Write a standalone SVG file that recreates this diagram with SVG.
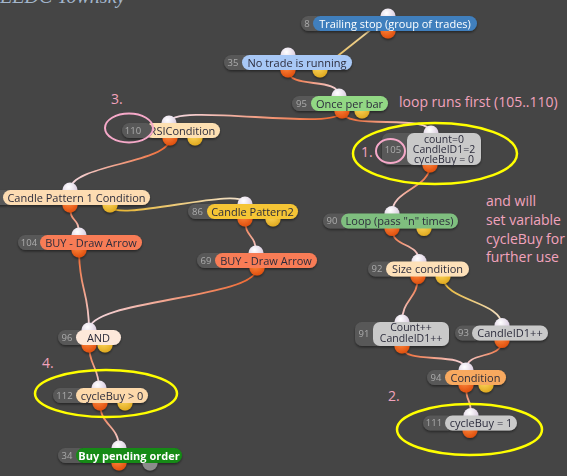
<svg xmlns="http://www.w3.org/2000/svg" width="567" height="476" viewBox="0 0 567 476">
  <style>
    .pill { fill: #595959; }
    .num { font-family: "Open Sans", "Noto Sans", "DejaVu Sans", sans-serif; font-size: 9.5px; fill: #ababab; text-anchor: middle; }
    .lbl { font-family: "Open Sans", "Noto Sans", "DejaVu Sans", sans-serif; font-size: 11px; fill: #2c2c3c; text-anchor: middle; }
    .lbl2 { font-family: "Open Sans", "Noto Sans", "DejaVu Sans", sans-serif; font-size: 10.5px; fill: #2c2c3c; text-anchor: middle; }
    .pin { fill: url(#gIn); }
    .po { fill: url(#gOut); }
    .py { fill: url(#gYel); }
    .pg { fill: #8c8c8c; }
    .wire { fill: none; stroke-width: 1.8; }
    .note { font-family: "Open Sans", "Noto Sans", "DejaVu Sans", sans-serif; font-size: 14px; fill: #f2a3bd; }
    .ringY { fill: none; stroke: #ffff00; stroke-width: 2.5; }
    .ringP { fill: none; stroke: #f6a9c9; stroke-width: 2; }
    .node { filter: url(#shadow); }
  </style>
  <defs>
    <filter id="shadow" x="-10%" y="-30%" width="120%" height="180%">
      <feDropShadow dx="0" dy="1.5" stdDeviation="1.2" flood-color="#000" flood-opacity="0.45"/>
    </filter>
    <radialGradient id="gIn" cx="0.4" cy="0.3" r="0.7">
      <stop offset="0" stop-color="#ffffff"/>
      <stop offset="1" stop-color="#d6c6dc"/>
    </radialGradient>
    <radialGradient id="gOut" cx="0.4" cy="0.3" r="0.7">
      <stop offset="0" stop-color="#ff8a40"/>
      <stop offset="1" stop-color="#e0500e"/>
    </radialGradient>
    <radialGradient id="gYel" cx="0.4" cy="0.3" r="0.7">
      <stop offset="0" stop-color="#ffd860"/>
      <stop offset="1" stop-color="#e0aa20"/>
    </radialGradient>
    <!-- wire gradients: source colour to pale target colour -->
    <linearGradient id="wa" gradientUnits="userSpaceOnUse" x1="320" y1="70" x2="388" y2="16"><stop offset="0" stop-color="#e8bb50"/><stop offset="1" stop-color="#f0dcb4"/></linearGradient>
    <linearGradient id="wb" gradientUnits="userSpaceOnUse" x1="288" y1="70" x2="339" y2="96"><stop offset="0" stop-color="#f06428"/><stop offset="1" stop-color="#f4dce6"/></linearGradient>
    <linearGradient id="wc" gradientUnits="userSpaceOnUse" x1="342" y1="111" x2="431" y2="133"><stop offset="0" stop-color="#f06428"/><stop offset="1" stop-color="#f4dce6"/></linearGradient>
    <linearGradient id="wd" gradientUnits="userSpaceOnUse" x1="342" y1="111" x2="169" y2="123"><stop offset="0" stop-color="#f06428"/><stop offset="1" stop-color="#f4dce6"/></linearGradient>
    <linearGradient id="we" gradientUnits="userSpaceOnUse" x1="170" y1="138" x2="70" y2="190"><stop offset="0" stop-color="#f06428"/><stop offset="1" stop-color="#f4dce6"/></linearGradient>
    <linearGradient id="wf" gradientUnits="userSpaceOnUse" x1="110" y1="205" x2="245" y2="204"><stop offset="0" stop-color="#e8b428"/><stop offset="1" stop-color="#f2e2d0"/></linearGradient>
    <linearGradient id="wg" gradientUnits="userSpaceOnUse" x1="70" y1="205" x2="79" y2="235"><stop offset="0" stop-color="#f06428"/><stop offset="1" stop-color="#f4dce6"/></linearGradient>
    <linearGradient id="wh" gradientUnits="userSpaceOnUse" x1="245" y1="219" x2="256" y2="253"><stop offset="0" stop-color="#f06428"/><stop offset="1" stop-color="#f4dce6"/></linearGradient>
    <linearGradient id="wi" gradientUnits="userSpaceOnUse" x1="79" y1="250" x2="89" y2="330"><stop offset="0" stop-color="#f06428"/><stop offset="1" stop-color="#f4dce6"/></linearGradient>
    <linearGradient id="wj" gradientUnits="userSpaceOnUse" x1="257" y1="268" x2="89" y2="330"><stop offset="0" stop-color="#f06428"/><stop offset="1" stop-color="#f4dce6"/></linearGradient>
    <linearGradient id="wk" gradientUnits="userSpaceOnUse" x1="89" y1="345" x2="99" y2="388"><stop offset="0" stop-color="#f06428"/><stop offset="1" stop-color="#f4dce6"/></linearGradient>
    <linearGradient id="wl" gradientUnits="userSpaceOnUse" x1="100" y1="403" x2="119" y2="448"><stop offset="0" stop-color="#f06428"/><stop offset="1" stop-color="#f4dce6"/></linearGradient>
    <linearGradient id="wm" gradientUnits="userSpaceOnUse" x1="430" y1="165" x2="392" y2="213"><stop offset="0" stop-color="#f06428"/><stop offset="1" stop-color="#f4dce6"/></linearGradient>
    <linearGradient id="wn" gradientUnits="userSpaceOnUse" x1="392" y1="228" x2="419" y2="261"><stop offset="0" stop-color="#f06428"/><stop offset="1" stop-color="#f4dce6"/></linearGradient>
    <linearGradient id="wo" gradientUnits="userSpaceOnUse" x1="418" y1="276" x2="402" y2="322"><stop offset="0" stop-color="#f06428"/><stop offset="1" stop-color="#f4dce6"/></linearGradient>
    <linearGradient id="wp" gradientUnits="userSpaceOnUse" x1="443" y1="276" x2="502" y2="325"><stop offset="0" stop-color="#e8b428"/><stop offset="1" stop-color="#f2e2d0"/></linearGradient>
    <linearGradient id="wq" gradientUnits="userSpaceOnUse" x1="402" y1="346" x2="466" y2="370"><stop offset="0" stop-color="#f06428"/><stop offset="1" stop-color="#f4dce6"/></linearGradient>
    <linearGradient id="wr" gradientUnits="userSpaceOnUse" x1="502" y1="340" x2="466" y2="370"><stop offset="0" stop-color="#f06428"/><stop offset="1" stop-color="#f4dce6"/></linearGradient>
    <linearGradient id="ws" gradientUnits="userSpaceOnUse" x1="466" y1="385" x2="471" y2="415"><stop offset="0" stop-color="#f06428"/><stop offset="1" stop-color="#f4dce6"/></linearGradient>
  </defs>

  <rect width="567" height="476" fill="#454545"/>
  <text x="0" y="3" font-family="Liberation Serif, serif" font-style="italic" font-size="20" fill="#a3b6cc">EEDC Townsky</text>

  <g id="connectors">
    <path class="wire" stroke="url(#wa)" d="M320,70 L388,16"/>
    <path class="wire" stroke="url(#wb)" d="M288,70 C288,90 339,76 339,96"/>
    <path class="wire" stroke="url(#wc)" d="M342,111 C342,131 431,113 431,133"/>
    <path class="wire" stroke="url(#wd)" d="M342,111 C342,133 169,101 169,123"/>
    <path class="wire" stroke="url(#we)" d="M170,138 C170,164 70,164 70,190"/>
    <path class="wire" stroke="url(#wf)" d="M110,205 C110,225 245,184 245,204"/>
    <path class="wire" stroke="url(#wg)" d="M70,205 C70,225 79,215 79,235"/>
    <path class="wire" stroke="url(#wh)" d="M245,219 C245,239 256,233 256,253"/>
    <path class="wire" stroke="url(#wi)" d="M79,250 C79,290 89,290 89,330"/>
    <path class="wire" stroke="url(#wj)" d="M257,268 C257,299 89,299 89,330"/>
    <path class="wire" stroke="url(#wk)" d="M89,345 C89,366 99,367 99,388"/>
    <path class="wire" stroke="url(#wl)" d="M100,403 C100,426 119,425 119,448"/>
    <path class="wire" stroke="url(#wm)" d="M430,165 C430,189 392,189 392,213.5"/>
    <path class="wire" stroke="url(#wn)" d="M392,228.5 C392,248.5 419,241.5 419,261.5"/>
    <path class="wire" stroke="url(#wo)" d="M418,276.5 C418,299 402,299 402,322"/>
    <path class="wire" stroke="url(#wp)" d="M443,276.5 C443,301 502,301 502,325.5"/>
    <path class="wire" stroke="url(#wq)" d="M402,346 C402,366 466,350 466,370"/>
    <path class="wire" stroke="url(#wr)" d="M502,340.5 C502,360.5 466,350 466,370"/>
    <path class="wire" stroke="url(#ws)" d="M466,385 C466,405 471,395.5 471,415.5"/>
  </g>

  <g id="node-8" class="node">
    <circle class="pin" cx="388" cy="16" r="7.5"/>
    <circle class="po" cx="388" cy="31" r="7.5"/>
    <rect class="pill" x="301" y="16" width="22" height="15" rx="7.5"/>
    <text class="num" x="307" y="26.8">8</text>
    <rect x="313" y="16" width="164" height="15" rx="7.5" fill="#3f7fbd"/>
    <text class="lbl" x="395" y="27.5" style="fill:#ffffff">Trailing stop (group of trades)</text>
  </g>

  <g id="node-35" class="node">
    <circle class="pin" cx="288" cy="55" r="7.5"/>
    <circle class="po" cx="288" cy="70" r="7.5"/>
    <circle class="py" cx="320" cy="70" r="7.5"/>
    <rect class="pill" x="224" y="55" width="28" height="15" rx="7.5"/>
    <text class="num" x="233" y="65.8">35</text>
    <rect x="242" y="55" width="110" height="15" rx="7.5" fill="#a8c8f6"/>
    <text class="lbl" x="297" y="66.5">No trade is running</text>
  </g>

  <g id="node-95" class="node">
    <circle class="pin" cx="339" cy="96" r="7.5"/>
    <circle class="po" cx="342" cy="111" r="7.5"/>
    <circle class="py" cx="362" cy="111" r="7.5"/>
    <rect class="pill" x="292" y="96" width="29" height="15" rx="7.5"/>
    <text class="num" x="301.5" y="106.8">95</text>
    <rect x="311" y="96" width="77" height="15" rx="7.5" fill="#92d884"/>
    <text class="lbl" x="349.5" y="107.5">Once per bar</text>
  </g>

  <g id="node-110" class="node">
    <circle class="pin" cx="169" cy="123" r="7.5"/>
    <circle class="po" cx="170" cy="138" r="7.5"/>
    <circle class="py" cx="195" cy="138" r="7.5"/>
    <rect x="145" y="123" width="75" height="15" rx="7.5" fill="#fde0b2"/>
    <text class="lbl" x="182.5" y="134.5">RSICondition</text>
    <rect class="pill" x="122" y="123" width="31" height="15" rx="7.5"/>
    <text class="num" x="133" y="133.8">110</text>
  </g>

  <g id="node-105" class="node">
    <circle class="pin" cx="431" cy="133" r="7.5"/>
    <circle class="po" cx="430" cy="165" r="7.5"/>
    <rect class="pill" x="382" y="133" width="35" height="32" rx="7"/>
    <text class="num" x="393" y="152.5">105</text>
    <rect x="407" y="133" width="74" height="32" rx="7" fill="#c9c9c9"/>
    <text class="lbl2" x="444" y="142.5">count=0</text>
    <text class="lbl2" x="444" y="152.7">CandleID1=2</text>
    <text class="lbl2" x="444" y="162.9">cycleBuy = 0</text>
  </g>

  <g id="node-90" class="node">
    <circle class="pin" cx="392" cy="213.5" r="7.5"/>
    <circle class="po" cx="392" cy="228.5" r="7.5"/>
    <circle class="py" cx="424" cy="228.5" r="7.5"/>
    <rect class="pill" x="323" y="213.5" width="28" height="15" rx="7.5"/>
    <text class="num" x="332" y="224.3">90</text>
    <rect x="341" y="213.5" width="117" height="15" rx="7.5" fill="#7fbf7f"/>
    <text class="lbl" x="399.5" y="225">Loop (pass "n" times)</text>
  </g>

  <g id="node-92" class="node">
    <circle class="pin" cx="419" cy="261.5" r="7.5"/>
    <circle class="po" cx="418" cy="276.5" r="7.5"/>
    <circle class="py" cx="443" cy="276.5" r="7.5"/>
    <rect class="pill" x="368" y="261.5" width="28" height="15" rx="7.5"/>
    <text class="num" x="377" y="272.3">92</text>
    <rect x="386" y="261.5" width="83" height="15" rx="7.5" fill="#fde0b8"/>
    <text class="lbl" x="427.5" y="273">Size condition</text>
  </g>

  <g id="node-91" class="node">
    <circle class="pin" cx="402" cy="322" r="7.5"/>
    <circle class="po" cx="402" cy="346" r="7.5"/>
    <rect class="pill" x="355" y="322" width="28" height="24" rx="7"/>
    <text class="num" x="364" y="337.3">91</text>
    <rect x="373" y="322" width="76" height="24" rx="7" fill="#c9c9c9"/>
    <text class="lbl2" x="411" y="331">Count++</text>
    <text class="lbl2" x="411" y="342.3">CandleID1++</text>
  </g>

  <g id="node-93" class="node">
    <circle class="pin" cx="502" cy="325.5" r="7.5"/>
    <circle class="po" cx="502" cy="340.5" r="7.5"/>
    <rect class="pill" x="455" y="325.5" width="27" height="15" rx="7.5"/>
    <text class="num" x="463.5" y="336.3">93</text>
    <rect x="472" y="325.5" width="76" height="15" rx="7.5" fill="#c9c9c9"/>
    <text class="lbl" x="510" y="337">CandleID1++</text>
  </g>

  <g id="node-94" class="node">
    <circle class="pin" cx="466" cy="370" r="7.5"/>
    <circle class="po" cx="466" cy="385" r="7.5"/>
    <circle class="py" cx="486" cy="385" r="7.5"/>
    <rect class="pill" x="427" y="370" width="28" height="15" rx="7.5"/>
    <text class="num" x="436" y="380.8">94</text>
    <rect x="445" y="370" width="61" height="15" rx="7.5" fill="#f8a95e"/>
    <text class="lbl" x="475.5" y="381.5">Condition</text>
  </g>

  <g id="node-111" class="node">
    <circle class="pin" cx="471" cy="415.5" r="7.5"/>
    <circle class="po" cx="470" cy="430.5" r="7.5"/>
    <rect class="pill" x="423" y="415.5" width="32" height="15" rx="7.5"/>
    <text class="num" x="434" y="426.3">111</text>
    <rect x="445" y="415.5" width="72" height="15" rx="7.5" fill="#c9c9c9"/>
    <text class="lbl" x="481" y="427">cycleBuy = 1</text>
  </g>

  <g id="node-cp1" class="node">
    <circle class="pin" cx="70" cy="190" r="7.5"/>
    <circle class="po" cx="70" cy="205" r="7.5"/>
    <circle class="py" cx="110" cy="205" r="7.5"/>
    <rect class="pill" x="-20" y="190" width="33" height="15" rx="7.5"/>
    <rect x="3" y="190" width="147" height="15" rx="7.5" fill="#fddcb2"/>
    <text class="lbl" x="76.5" y="201.5">Candle Pattern 1 Condition</text>
  </g>

  <g id="node-86" class="node">
    <circle class="pin" cx="245" cy="204" r="7.5"/>
    <circle class="po" cx="245" cy="219" r="7.5"/>
    <circle class="py" cx="273" cy="219" r="7.5"/>
    <rect class="pill" x="188" y="204" width="29" height="15" rx="7.5"/>
    <text class="num" x="197.5" y="214.8">86</text>
    <rect x="207" y="204" width="91" height="15" rx="7.5" fill="#f5c534"/>
    <text class="lbl" x="252.5" y="215.5">Candle Pattern2</text>
  </g>

  <g id="node-104" class="node">
    <circle class="pin" cx="79" cy="235" r="7.5"/>
    <circle class="po" cx="79" cy="250" r="7.5"/>
    <rect class="pill" x="18" y="235" width="32" height="15" rx="7.5"/>
    <text class="num" x="29" y="245.8">104</text>
    <rect x="40" y="235" width="102" height="15" rx="7.5" fill="#f87c56"/>
    <text class="lbl" x="91" y="246.5">BUY - Draw Arrow</text>
  </g>

  <g id="node-69" class="node">
    <circle class="pin" cx="256" cy="253" r="7.5"/>
    <circle class="po" cx="257" cy="268" r="7.5"/>
    <rect class="pill" x="197" y="253" width="28" height="15" rx="7.5"/>
    <text class="num" x="206" y="263.8">69</text>
    <rect x="215" y="253" width="102" height="15" rx="7.5" fill="#f87c56"/>
    <text class="lbl" x="266" y="264.5">BUY - Draw Arrow</text>
  </g>

  <g id="node-96" class="node">
    <circle class="pin" cx="89" cy="330" r="7.5"/>
    <circle class="po" cx="89" cy="345" r="7.5"/>
    <circle class="py" cx="105" cy="345" r="7.5"/>
    <rect class="pill" x="58" y="330" width="28" height="15" rx="7.5"/>
    <text class="num" x="67" y="340.8">96</text>
    <rect x="76" y="330" width="45" height="15" rx="7.5" fill="#fde8da"/>
    <text class="lbl" x="98.5" y="341.5">AND</text>
  </g>

  <g id="node-112" class="node">
    <circle class="pin" cx="99" cy="388" r="7.5"/>
    <circle class="po" cx="100" cy="403" r="7.5"/>
    <circle class="py" cx="125" cy="403" r="7.5"/>
    <rect class="pill" x="53" y="388" width="33" height="15" rx="7.5"/>
    <text class="num" x="64.5" y="398.8">112</text>
    <rect x="76" y="388" width="72" height="15" rx="7.5" fill="#fdd9aa"/>
    <text class="lbl" x="112" y="399.5">cycleBuy &gt; 0</text>
  </g>

  <g id="node-34" class="node">
    <circle class="pin" cx="119" cy="448" r="7.5"/>
    <circle class="po" cx="119" cy="463" r="7.5"/>
    <circle class="pg" cx="150" cy="463" r="7.5"/>
    <rect class="pill" x="58" y="448" width="28" height="15" rx="7.5"/>
    <text class="num" x="67" y="458.8">34</text>
    <rect x="76" y="448" width="106" height="15" rx="7.5" fill="#128a14"/>
    <text class="lbl" x="129" y="459.5" font-weight="bold" style="fill:#ffffff">Buy pending order</text>
  </g>

  <!-- annotations -->
  <text class="note" x="399" y="107">loop runs first (105..110)</text>
  <text class="note" x="486" y="206">and will</text>
  <text class="note" x="486" y="225">set variable</text>
  <text class="note" x="486" y="243.5">cycleBuy for</text>
  <text class="note" x="486" y="262">further use</text>
  <text class="note" x="111" y="104">3.</text>
  <text class="note" x="361" y="157">1.</text>
  <text class="note" x="388" y="401">2.</text>
  <text class="note" x="42" y="368">4.</text>

  <ellipse class="ringY" cx="435" cy="153.5" rx="82" ry="30.5"/>
  <ellipse class="ringY" cx="469.5" cy="429.5" rx="72.5" ry="25.5"/>
  <ellipse class="ringY" cx="106" cy="393.5" rx="71" ry="23.5"/>
  <ellipse class="ringP" cx="129" cy="128" rx="24" ry="14.5"/>
  <ellipse class="ringP" cx="390.5" cy="151" rx="14.5" ry="12"/>
</svg>
